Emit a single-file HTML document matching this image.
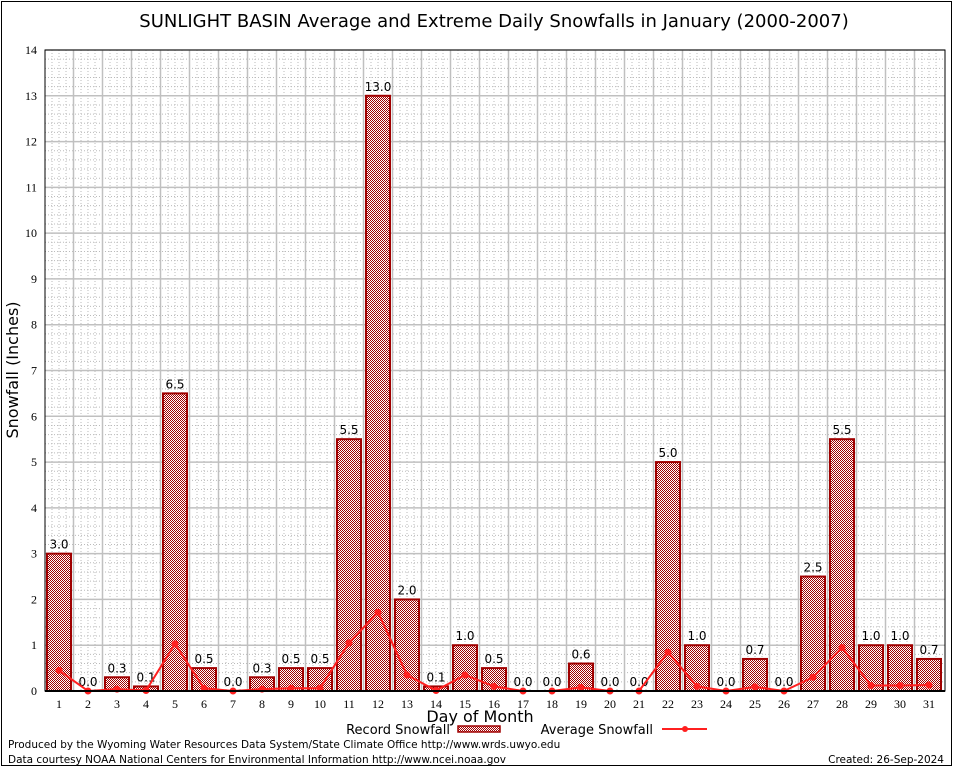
<!DOCTYPE html>
<html><head><meta charset="utf-8"><style>
html,body{margin:0;padding:0;background:#fff;}
svg{display:block;font-family:"DejaVu Sans","Liberation Sans",sans-serif;}
</style></head><body>
<svg id="chart" width="954" height="768">
<defs>
<pattern id="hatch" width="2" height="2" patternUnits="userSpaceOnUse">
<rect width="2" height="2" fill="#fff"/><rect width="1" height="1" fill="#a00000"/><rect x="1" y="1" width="1" height="1" fill="#a00000"/>
</pattern>
</defs>
<rect x="1.5" y="1.5" width="950" height="764" fill="#fff" stroke="#000"/>
<text x="494" y="27" font-size="18" text-anchor="middle">SUNLIGHT BASIN Average and Extreme Daily Snowfalls in January (2000-2007)</text>
<g id="grid"></g>
<g id="bars"></g>
<g id="line"></g>
<g id="axes"></g>
<text x="18" y="370" font-size="16" text-anchor="middle" transform="rotate(-90 18 370)">Snowfall (Inches)</text>
<text x="480" y="722" font-size="16" text-anchor="middle">Day of Month</text>
<g>
<text x="450" y="734" font-size="13" text-anchor="end">Record Snowfall</text>
<rect x="458" y="726" width="42" height="6" fill="url(#hatch)" stroke="#a00000" stroke-width="1.5"/>
<text x="653" y="734" font-size="13" text-anchor="end">Average Snowfall</text>
<line x1="662" y1="729" x2="707" y2="729" stroke="#ff2020" stroke-width="2"/>
<circle cx="685" cy="729" r="3" fill="#ff2020"/>
</g>
<text x="8" y="748" font-size="10.5">Produced by the Wyoming Water Resources Data System/State Climate Office http://www.wrds.uwyo.edu</text>
<text x="8" y="763" font-size="10.5">Data courtesy NOAA National Centers for Environmental Information http://www.ncei.noaa.gov</text>
<text x="944" y="763" font-size="10.5" text-anchor="end">Created:  26-Sep-2024</text>
</svg>
<script>
const days = [1,2,3,4,5,6,7,8,9,10,11,12,13,14,15,16,17,18,19,20,21,22,23,24,25,26,27,28,29,30,31];
const recordSnow = [3.0,0.0,0.3,0.1,6.5,0.5,0.0,0.3,0.5,0.5,5.5,13.0,2.0,0.1,1.0,0.5,0.0,0.0,0.6,0.0,0.0,5.0,1.0,0.0,0.7,0.0,2.5,5.5,1.0,1.0,0.7];
const avgSnow = [0.45,0.0,0.04,0.01,1.03,0.06,0.0,0.04,0.06,0.06,1.05,1.72,0.35,0.01,0.35,0.1,0.0,0.0,0.08,0.0,0.0,0.85,0.1,0.0,0.09,0.0,0.3,0.95,0.12,0.12,0.13];
const yTicks = [0,1,2,3,4,5,6,7,8,9,10,11,12,13,14];

const NS="http://www.w3.org/2000/svg";
const L=45,R=945,T=50,B=691,yMax=14;
const x=d=>59+(d-1)*29;
const y=v=>B-(v/yMax)*(B-T);
function mk(tag,attrs,parent){const e=document.createElementNS(NS,tag);for(const k in attrs)e.setAttribute(k,attrs[k]);parent.appendChild(e);return e;}
const grid=document.getElementById('grid'),bars=document.getElementById('bars'),line=document.getElementById('line'),axes=document.getElementById('axes');

for(let v=0;v<yMax;v+=0.2){const yy=y(v);
 const g=mk('line',{x1:L,x2:R,y1:yy,y2:yy,stroke:'#bbb','stroke-width':1,'stroke-dasharray':'1,2'},grid);
 
 }
for(let d=1;d<=31;d++){for(const off of [-7,0,7]){const xx=x(d)+off;
 const g=mk('line',{x1:xx,x2:xx,y1:T,y2:B,stroke:'#bbb','stroke-width':1,'stroke-dasharray':'1,2'},grid);
 
 }}
yTicks.forEach(v=>{const yy=y(v);
 const g=mk('line',{x1:L,x2:R,y1:yy,y2:yy,stroke:'#c0c0c0','stroke-width':1.5},grid);
 
 
 const t=mk('text',{x:37,y:yy+4,'font-size':12,'text-anchor':'end','font-family':'Liberation Serif, serif'},axes);t.textContent=v;
 
 });
for(let d=1;d<31;d++){const xx=x(d)+14.5;
 const g=mk('line',{x1:xx,x2:xx,y1:T,y2:B,stroke:'#c0c0c0','stroke-width':1.5},grid);
 
 }

days.forEach((d,i)=>{const v=recordSnow[i];
 if(v>0){const r=mk('rect',{x:x(d)-12,y:y(v),width:24,height:B-y(v),fill:'url(#hatch)',stroke:'#a00000','stroke-width':2},bars);
  
  }
 const t=mk('text',{x:x(d),y:y(v)-5,'font-size':12,'text-anchor':'middle'},bars);t.textContent=v.toFixed(1);
 
 
 const xl=mk('text',{x:x(d),y:708,'font-size':12,'text-anchor':'middle','font-family':'Liberation Serif, serif'},axes);xl.textContent=d;
 
 });

const pl=mk('polyline',{points:days.map((d,i)=>x(d)+','+y(avgSnow[i])).join(' '),fill:'none',stroke:'#ff2020','stroke-width':2},line);


days.forEach((d,i)=>{const c=mk('circle',{cx:x(d),cy:y(avgSnow[i]),r:3.5,fill:'#ff2020'},line);
 
 });

const fr=mk('rect',{x:L,y:T,width:R-L,height:B-T,fill:'none',stroke:'#000','stroke-width':1},axes);


const ax=mk('line',{x1:L,x2:R,y1:B,y2:B,stroke:'#000','stroke-width':2},axes);


</script>
</body></html>
